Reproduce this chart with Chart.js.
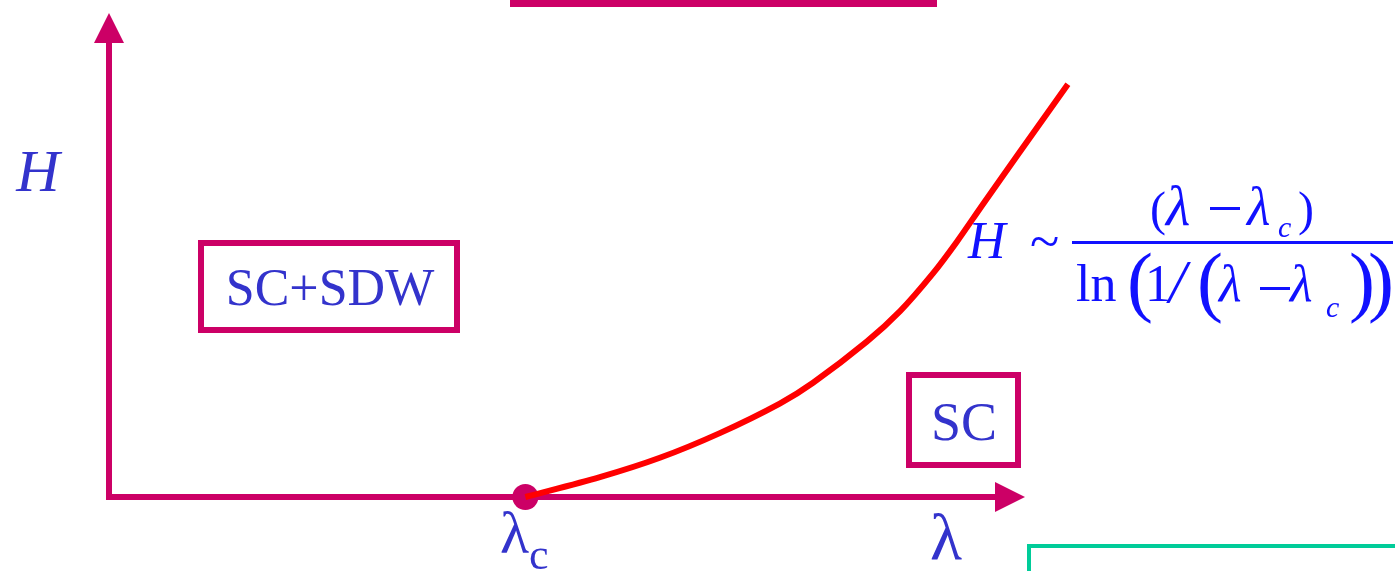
<!DOCTYPE html>
<html>
<head>
<meta charset="utf-8">
<title>H vs lambda phase diagram</title>
<script src="https://cdn.jsdelivr.net/npm/chart.js@4.4.0/dist/chart.umd.min.js"></script>
<style>
  body { margin: 0; background: #fff; }
  #wrap { width: 1395px; height: 571px; position: relative; }
</style>
</head>
<body>
<div id="wrap"><canvas id="phase"></canvas></div>
<script>
// phase boundary H(lambda), arbitrary units
var lambdaVals = [1.0, 1.179, 1.323, 1.467, 1.611, 1.691, 1.820, 1.900, 1.979, 2.036, 2.099, 2.181, 2.303];
var hVals      = [0.0, 0.041, 0.081, 0.132, 0.193, 0.236, 0.321, 0.384, 0.462, 0.527, 0.605, 0.705, 0.853];
var lambdaC = 1.0;
var lambdaMax = 2.2;
var hMax = 1.0;

var MAGENTA = '#cc0066';
var LABEL_BLUE = '#3333cc';
var FORMULA_BLUE = '#1111ff';
var SERIF = '"Liberation Serif", "Times New Roman", serif';

function font(size, italic) {
    return (italic ? 'italic ' : '') + size + 'px ' + SERIF;
}

function txt(ctx, s, x, y, size, italic, color) {
    ctx.font = font(size, italic);
    ctx.fillStyle = color;
    ctx.fillText(s, x, y);
}

// axes with arrow heads, plus the boxed region labels
var decor = {
    id: 'decor',
    beforeDatasetsDraw: function (chart) {
        var ctx = chart.ctx;
        var xs = chart.scales.x, ys = chart.scales.y;
        var x0 = xs.getPixelForValue(0), y0 = ys.getPixelForValue(0);
        var xEnd = xs.getPixelForValue(lambdaMax), yEnd = ys.getPixelForValue(hMax);
        ctx.save();
        ctx.strokeStyle = MAGENTA;
        ctx.fillStyle = MAGENTA;
        ctx.lineWidth = 6;
        ctx.beginPath();
        ctx.moveTo(x0, y0 + 3);
        ctx.lineTo(x0, yEnd + 28);
        ctx.moveTo(x0 - 3, y0);
        ctx.lineTo(xEnd - 28, y0);
        ctx.stroke();
        // arrow heads
        ctx.beginPath();
        ctx.moveTo(x0, yEnd);
        ctx.lineTo(x0 - 15, yEnd + 30);
        ctx.lineTo(x0 + 15, yEnd + 30);
        ctx.closePath();
        ctx.fill();
        ctx.beginPath();
        ctx.moveTo(xEnd, y0);
        ctx.lineTo(xEnd - 30, y0 - 15);
        ctx.lineTo(xEnd - 30, y0 + 15);
        ctx.closePath();
        ctx.fill();

        // bar at the top and the green frame at bottom right
        ctx.fillRect(510, 0, 427, 7);
        ctx.strokeStyle = '#00cc99';
        ctx.lineWidth = 4;
        ctx.beginPath();
        ctx.moveTo(1029, 571);
        ctx.lineTo(1029, 546);
        ctx.lineTo(1395, 546);
        ctx.stroke();

        // region boxes
        ctx.strokeStyle = MAGENTA;
        ctx.lineWidth = 6;
        ctx.strokeRect(201, 243, 256, 87);
        ctx.strokeRect(909, 375, 109, 90);
        ctx.restore();
    },
    afterDatasetsDraw: function (chart) {
        var ctx = chart.ctx;
        ctx.save();
        ctx.textBaseline = 'alphabetic';
        ctx.textAlign = 'center';
        txt(ctx, 'SC+SDW', 330, 305, 52, false, LABEL_BLUE);
        txt(ctx, 'SC', 964, 440, 54, false, LABEL_BLUE);
        txt(ctx, 'H', 38, 191, 60, true, LABEL_BLUE);

        ctx.textAlign = 'left';
        // axis labels
        txt(ctx, 'λ', 500, 553, 60, false, LABEL_BLUE);
        txt(ctx, 'c', 529, 569, 44, false, LABEL_BLUE);
        txt(ctx, 'λ', 930, 559, 66, false, LABEL_BLUE);

        // H ~ (λ-λc) / ln(1/(λ-λc))
        var c = FORMULA_BLUE;
        txt(ctx, 'H', 968, 258, 52, true, c);
        txt(ctx, '~', 1030, 260, 54, false, c);
        ctx.fillStyle = c;
        ctx.fillRect(1072, 241, 321, 3);

        // numerator
        txt(ctx, '(', 1150, 225, 48, false, c);
        txt(ctx, 'λ', 1166, 225, 56, true, c);
        ctx.fillRect(1210, 207, 30, 3);
        txt(ctx, 'λ', 1247, 225, 54, true, c);
        txt(ctx, 'c', 1278, 237, 30, true, c);
        txt(ctx, ')', 1298, 225, 48, false, c);

        // denominator
        txt(ctx, 'ln', 1076, 301, 52, false, c);
        txt(ctx, '(', 1127, 307, 78, false, c);
        txt(ctx, '1', 1145, 301, 52, false, c);
        txt(ctx, '/', 1169, 302, 62, true, c);
        txt(ctx, '(', 1197, 307, 78, false, c);
        txt(ctx, 'λ', 1219, 301, 52, true, c);
        ctx.fillStyle = c;
        ctx.fillRect(1260, 287, 30, 3);
        txt(ctx, 'λ', 1290, 301, 52, true, c);
        txt(ctx, 'c', 1326, 317, 30, true, c);
        txt(ctx, ')', 1349, 307, 78, false, c);
        txt(ctx, ')', 1368, 307, 78, false, c);
        ctx.restore();
    }
};

var curvePoints = lambdaVals.map(function (l, i) { return { x: l, y: hVals[i] }; });

var config = {
    type: 'line',
    data: {
        datasets: [{
            data: curvePoints,
            borderColor: '#ff0000',
            borderWidth: 6,
            pointRadius: 0,
            tension: 0.3,
            fill: false,
            clip: false,
            order: 1
        }, {
            data: [{ x: lambdaC, y: 0 }],
            showLine: false,
            pointRadius: 13,
            pointBackgroundColor: MAGENTA,
            pointBorderWidth: 0,
            clip: false,
            order: 2
        }]
    },
    options: {
        responsive: true,
        maintainAspectRatio: false,
        animation: false,
        layout: { padding: { left: 109, right: 370, top: 6, bottom: 74 } },
        plugins: { legend: { display: false }, tooltip: { enabled: false } },
        scales: {
            x: { type: 'linear', min: 0, max: lambdaMax, display: false },
            y: { type: 'linear', min: 0, max: hMax, display: false }
        }
    },
    plugins: [decor]
};

var ctx = document.getElementById('phase').getContext('2d');
window.phaseChart = new Chart(ctx, config);
</script>
</body>
</html>
